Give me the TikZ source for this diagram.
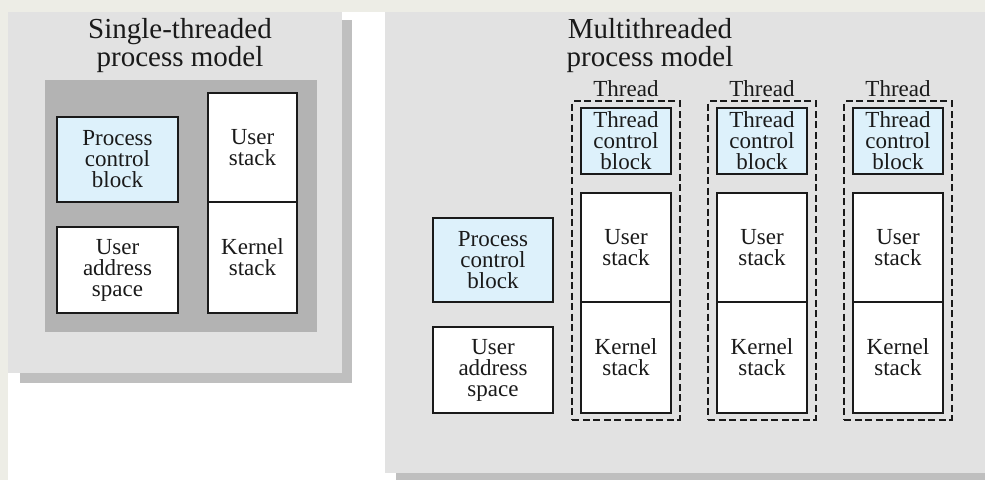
\documentclass[tikz,border=0pt]{standalone}
\usepackage{fontspec}
\setmainfont{Liberation Serif}
\newfontfamily\diagfont{Liberation Serif}
\usetikzlibrary{positioning, fit}

\definecolor{pagebg}{HTML}{EDEDE6}
\definecolor{panelgrey}{HTML}{E2E2E2}
\definecolor{shadowgrey}{HTML}{BFBFBF}
\definecolor{innergrey}{HTML}{B3B3B3}
\definecolor{pcbblue}{HTML}{DDF1FB}
\definecolor{inkdark}{HTML}{1A1A1A}

\tikzset{
  membox/.style={draw=inkdark, line width=1.4pt, fill=white, inner sep=0pt,
    align=center, text=inkdark, font=\diagfont\fontsize{23}{21}\selectfont},
  ctlbox/.style={membox, fill=pcbblue},
  threadbox/.style={draw=inkdark, line width=1.7pt, dash pattern=on 7pt off 3.5pt,
    inner xsep=8pt, inner ysep=6pt},
  heading/.style={align=center, text=inkdark, font=\diagfont\fontsize{29}{28}\selectfont},
  threadlabel/.style={text=inkdark, font=\diagfont\fontsize{23}{21}\selectfont},
}

\begin{document}
\begin{tikzpicture}[x=1pt, y=-1pt]
    \useasboundingbox (0,0) rectangle (985,480);

    % Page background
    \fill[pagebg] (0,0) rectangle (985,480);
    \fill[white] (8,12) rectangle (985,480);

    % Single-threaded panel
    \fill[shadowgrey] (20,20) rectangle (352,383);
    \fill[panelgrey] (8,12) rectangle (342,373);
    \fill[innergrey] (45,80) rectangle (317,332);
    \node[heading] (stTitle) at (180,46) {Single-threaded\\process model};

    \node[ctlbox, minimum width=121pt, minimum height=85pt] (stPcb) at (117.5,159.5) {Process\\control\\block};
    \node[membox, minimum width=121pt, minimum height=86pt] (stUas) at (117.5,270) {User\\address\\space};
    \node[membox, minimum width=89pt, minimum height=109pt] (stUstack) at (252.5,147.5) {User\\stack};
    \node[membox, minimum width=89pt, minimum height=111pt] (stKstack) at (252.5,257.5) {Kernel\\stack};

    % Multithreaded panel
    \fill[shadowgrey] (396,473) rectangle (985,480);
    \fill[panelgrey] (385,12) rectangle (985,473);
    \node[heading] (mtTitle) at (650,46) {Multithreaded\\process model};

    \node[ctlbox, minimum width=120pt, minimum height=84pt] (mtPcb) at (493,260) {Process\\control\\block};
    \node[membox, minimum width=120pt, minimum height=86pt] (mtUas) at (493,370) {User\\address\\space};

    % Thread 1
    \node[ctlbox, minimum width=90pt, minimum height=66pt] (tcbA) at (626,141) {Thread\\control\\block};
    \node[membox, minimum width=90pt, minimum height=109pt] (usA) at (626,247.5) {User\\stack};
    \node[membox, minimum width=90pt, minimum height=111pt] (ksA) at (626,357.5) {Kernel\\stack};
    \node[threadbox, fit=(tcbA)(usA)(ksA)] (thrA) {};
    \node[threadlabel] (lblA) at (626,89) {Thread};

    % Thread 2
    \node[ctlbox, minimum width=90pt, minimum height=66pt] (tcbB) at (762,141) {Thread\\control\\block};
    \node[membox, minimum width=90pt, minimum height=109pt] (usB) at (762,247.5) {User\\stack};
    \node[membox, minimum width=90pt, minimum height=111pt] (ksB) at (762,357.5) {Kernel\\stack};
    \node[threadbox, fit=(tcbB)(usB)(ksB)] (thrB) {};
    \node[threadlabel] (lblB) at (762,89) {Thread};

    % Thread 3
    \node[ctlbox, minimum width=90pt, minimum height=66pt] (tcbC) at (898,141) {Thread\\control\\block};
    \node[membox, minimum width=90pt, minimum height=109pt] (usC) at (898,247.5) {User\\stack};
    \node[membox, minimum width=90pt, minimum height=111pt] (ksC) at (898,357.5) {Kernel\\stack};
    \node[threadbox, fit=(tcbC)(usC)(ksC)] (thrC) {};
    \node[threadlabel] (lblC) at (898,89) {Thread};
\end{tikzpicture}
\end{document}
